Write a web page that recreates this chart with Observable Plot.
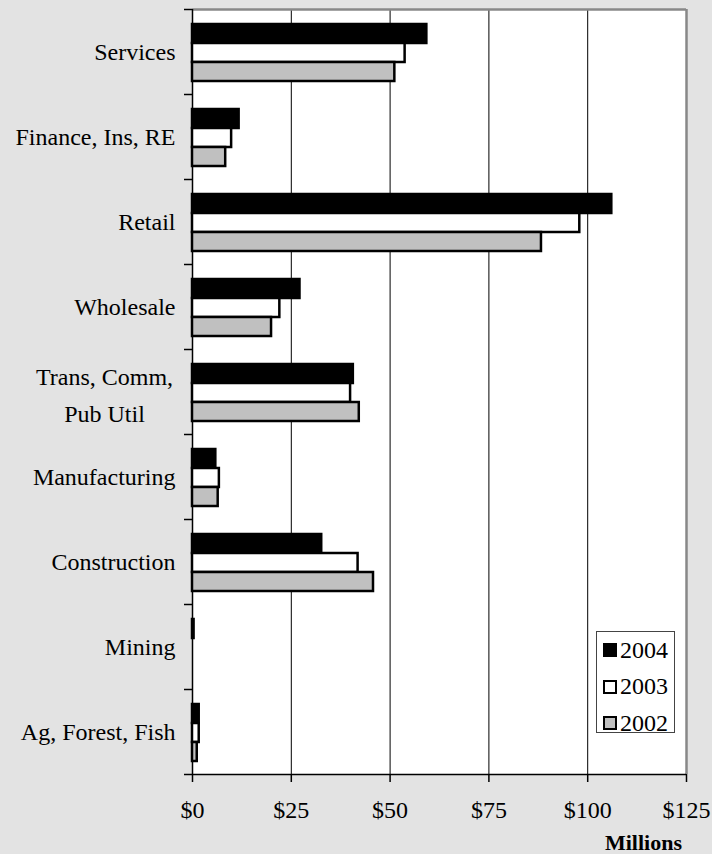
<!DOCTYPE html>
<html>
<head>
<meta charset="utf-8">
<script src="https://cdn.jsdelivr.net/npm/d3@7"></script>
<script src="https://cdn.jsdelivr.net/npm/@observablehq/plot@0.6"></script>
<style>
  html, body { margin: 0; padding: 0; background: #e3e3e3; }
  #chart { position: relative; width: 712px; height: 854px; background: #e3e3e3; font-family: "Liberation Serif", "Times New Roman", serif; }
  #chart svg { position: absolute; left: 0; top: 0; }
  #legend { position: absolute; left: 596px; top: 631px; width: 79px; height: 102px; background: #fff; border: 1px solid #444; box-sizing: border-box; padding-top: 0px; }
  .row { height: 36.5px; display: flex; align-items: center; font-size: 24px; color: #000; }
  .sw { width: 14px; height: 14px; box-sizing: border-box; border: 2px solid #000; margin-left: 6px; margin-right: 3px; }
  #unit { position: absolute; right: 30px; top: 832px; font-size: 22px; font-weight: bold; line-height: 1; color: #000; }
</style>
</head>
<body>
<div id="chart"></div>
<script>
const categories = ["Services", "Finance, Ins, RE", "Retail", "Wholesale", "Trans, Comm,\nPub Util", "Manufacturing", "Construction", "Mining", "Ag, Forest, Fish"];
const years = ["2004", "2003", "2002"];
const values2004 = [59.3, 11.8, 106.1, 27.2, 40.7, 5.9, 32.7, 0.4, 1.7];
const values2003 = [53.8, 9.9, 98.0, 22.1, 40.0, 6.8, 41.9, 0, 1.7];
const values2002 = [51.2, 8.4, 88.3, 20.0, 42.2, 6.5, 45.8, 0, 1.2];
const xTicks = [0, 25, 50, 75, 100, 125];
const gridTicks = [25, 50, 75, 100];
const fills = ["#000000", "#ffffff", "#c0c0c0"];
const unitLabel = "Millions";

const seriesValues = [values2004, values2003, values2002];
const rows = [];
categories.forEach((c, i) => years.forEach((y, k) => rows.push({category: c, year: y, value: seriesValues[k][i]})));

const W = 712, H = 854;
const M = {marginTop: 9, marginRight: 26, marginBottom: 80, marginLeft: 192};
const font = '"Liberation Serif", "Times New Roman", serif';
const boundaries = d3.range(categories.length + 1);

const base = Plot.plot({
  width: W, height: H, ...M,
  style: {background: "transparent", fontFamily: font, color: "#000"},
  x: {domain: [xTicks[0], xTicks[xTicks.length - 1]]},
  y: {domain: [0, categories.length], reverse: true},
  marks: [
    Plot.frame({fill: "#ffffff", stroke: "none"}),
    Plot.ruleX(gridTicks, {stroke: "#000", strokeWidth: 1}),
    Plot.ruleX([xTicks[xTicks.length - 1]], {stroke: "#888", strokeWidth: 2.5}),
    Plot.ruleY([0], {stroke: "#888", strokeWidth: 2.5}),
    Plot.ruleX([0], {stroke: "#000", strokeWidth: 1.5}),
    Plot.ruleY([categories.length], {stroke: "#000", strokeWidth: 1.5}),
    Plot.axisY(boundaries, {tickSize: 8, tickFormat: () => "", label: null, strokeWidth: 1.5}),
    Plot.axisX(xTicks, {tickSize: 8, tickPadding: 18, tickFormat: d => "$" + d, label: null, fontSize: 24, strokeWidth: 1.5}),
    Plot.text(categories, {filter: d => !d.includes("\n"), y: (d, i) => i + 0.5, frameAnchor: "left", textAnchor: "end", dx: -17, fontSize: 24, fill: "#000"}),
    Plot.text(categories, {filter: d => d.includes("\n"), y: (d, i) => i + 0.5, frameAnchor: "left", textAnchor: "middle", dx: -88, fontSize: 24, lineHeight: 1.54, fill: "#000"})
  ]
});

const bars = Plot.plot({
  width: W, height: H, ...M,
  style: {background: "transparent"},
  x: {domain: [xTicks[0], xTicks[xTicks.length - 1]], axis: null},
  y: {domain: years, padding: 0, axis: null},
  fy: {domain: categories, paddingInner: 0.32, paddingOuter: 0.16, axis: null, label: null},
  color: {domain: years, range: fills},
  marks: [
    Plot.barX(rows, {fy: "category", y: "year", x: "value", fill: "year", stroke: "#000", strokeWidth: 2.5})
  ]
});

const chart = document.getElementById("chart");
chart.appendChild(base);
chart.appendChild(bars);

const legend = document.createElement("div");
legend.id = "legend";
years.forEach((y, k) => {
  const r = document.createElement("div");
  r.className = "row";
  const s = document.createElement("div");
  s.className = "sw";
  s.style.background = fills[k];
  const t = document.createElement("span");
  t.textContent = y;
  r.appendChild(s); r.appendChild(t);
  legend.appendChild(r);
});
chart.appendChild(legend);

const unit = document.createElement("div");
unit.id = "unit";
unit.textContent = unitLabel;
chart.appendChild(unit);
</script>
</body>
</html>
